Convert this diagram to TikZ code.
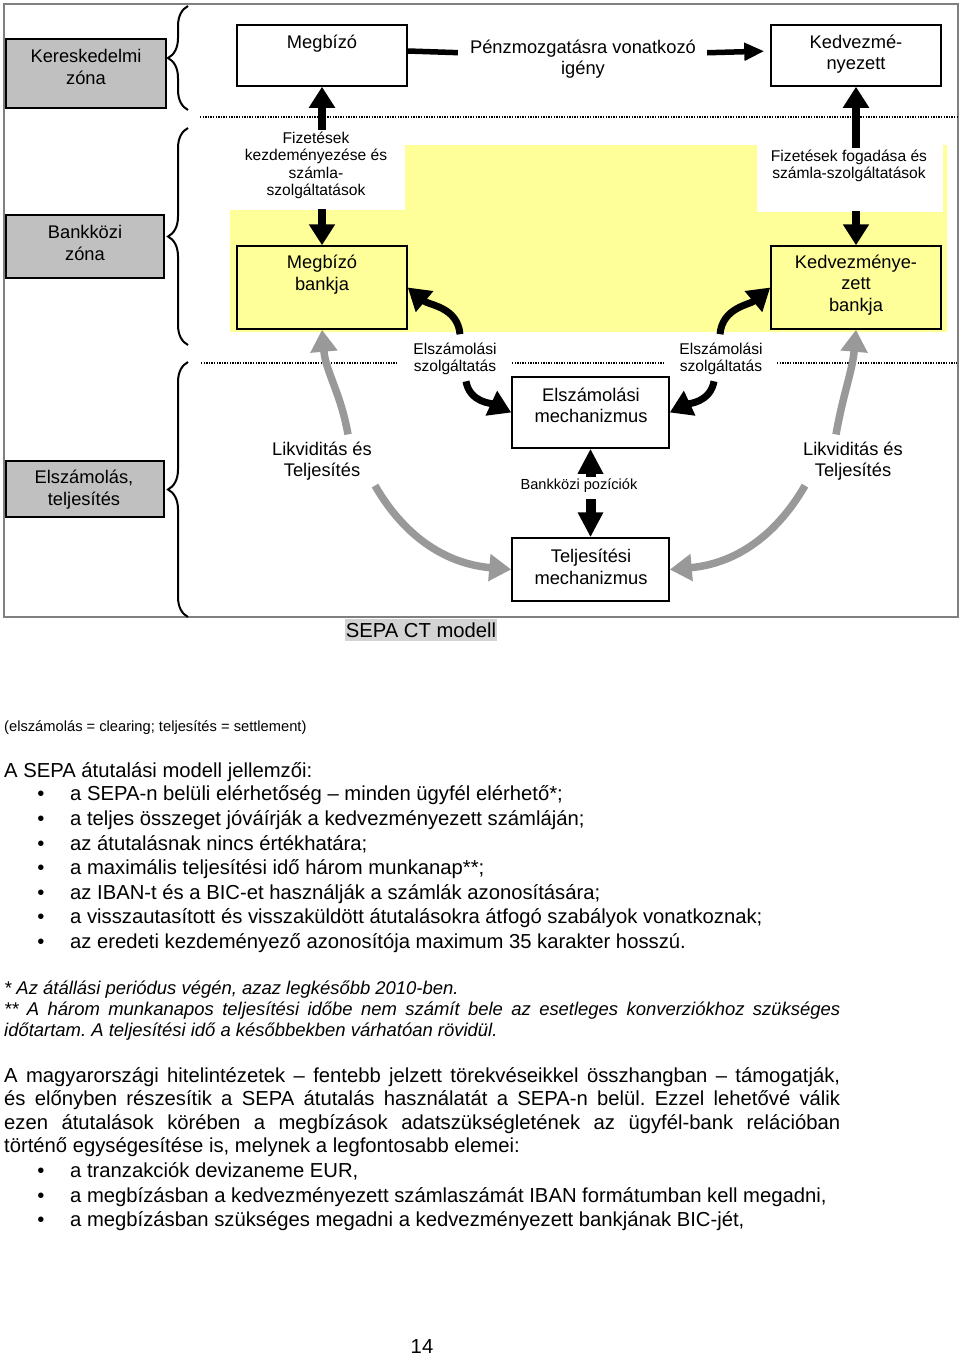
\documentclass[tikz,border=0pt]{standalone}
\usepackage{fontspec}
\setmainfont{Liberation Sans}
\usetikzlibrary{arrows.meta, decorations.pathreplacing}
\frenchspacing

\definecolor{yellowbg}{RGB}{255,255,153}
\definecolor{zonegray}{RGB}{192,192,192}
\definecolor{arrowgray}{RGB}{153,153,153}
\definecolor{framegray}{RGB}{128,128,128}
\definecolor{captiongray}{RGB}{211,211,211}

\newcommand{\diagfont}{\fontsize{18.3}{21.5}\selectfont}
\newcommand{\lblfont}{\fontsize{15.6}{17.5}\selectfont}
\newcommand{\posfont}{\fontsize{14.6}{17}\selectfont}
\newcommand{\bodyfont}{\fontsize{20.25}{24.5}\selectfont}
\newcommand{\notefont}{\fontsize{18.45}{21}\selectfont\itshape}
\newcommand{\parenfont}{\fontsize{14.7}{17}\selectfont}

\begin{document}
\begin{tikzpicture}[x=1pt, y=-1pt,
	box/.style={draw, rectangle, line width=1.5pt, inner sep=0pt},
	zonebox/.style={box, fill=zonegray},
	txt/.style={inner sep=2pt, align=center, font=\diagfont},
	lbl/.style={txt, font=\lblfont},
	textline/.style={anchor=base west, inner sep=0pt, font=\bodyfont},
	bulletdot/.style={anchor=base, inner sep=0pt, font=\bodyfont},
	separator/.style={line width=1.3pt, dash pattern=on 1.3pt off 1.3pt},
	zonebrace/.style={decorate, decoration={brace, amplitude=20pt}, line width=2pt},
	bigarrow/.style={->, >={Triangle[length=21pt, width=25pt]}, line width=8pt},
	toparrow/.style={->, >={Triangle[length=20pt, width=17pt]}, line width=5.5pt},
	curvearrow/.style={->, >={Triangle[length=22pt, width=26pt]}, line width=7pt},
	grayarrow/.style={curvearrow, draw=arrowgray, line width=7.5pt},
	posarrow/.style={->, >={Triangle[length=25pt, width=24pt]}, line width=10pt}]

	\useasboundingbox (0,0) rectangle (960,1357);

	\def \bx {41}
	\def \tx {70}
	\def \fullw {836pt}

	\draw[framegray, line width=2pt] (4,4) rectangle (958,617);
	\fill[yellowbg] (230,210) -- (405,210) -- (405,145) -- (757,145) -- (757,212)
		-- (943,212) -- (943,145) -- (947,145) -- (947,332) -- (230,332) -- cycle;

	\draw[separator] (200,117) -- (957,117);
	\draw[separator] (201,363) -- (397,363);
	\draw[separator] (512,363) -- (664,363);
	\draw[separator] (777,363) -- (957,363);

	\draw[zonebrace] (188,110) -- (188,6);
	\draw[zonebrace] (188,345) -- (188,128);
	\draw[zonebrace] (188,617) -- (188,362);

	\node[zonebox, minimum width=160, minimum height=69] (kerzona)  at (86,73.5) {};
	\node[zonebox, minimum width=158, minimum height=63] (bkzona)   at (85,246.5) {};
	\node[zonebox, minimum width=158, minimum height=56] (elszzona) at (85,489) {};

	\node[box, minimum width=170, minimum height=61] (megbizo)  at (322,55.5) {};
	\node[box, minimum width=170, minimum height=61] (kedv)     at (856,55.5) {};
	\node[box, fill=yellowbg, minimum width=170, minimum height=83] (mbank) at (322,287.5) {};
	\node[box, fill=yellowbg, minimum width=170, minimum height=83] (kbank) at (856,287.5) {};
	\node[box, minimum width=157, minimum height=71] (elszmech) at (590.5,412.5) {};
	\node[box, minimum width=157, minimum height=63] (teljmech) at (590.5,569.5) {};

	\node[txt] (kertxt)  at (86,67)    {Kereskedelmi\\zóna};
	\node[txt] (bktxt)   at (85,243)   {Bankközi\\zóna};
	\node[txt] (elsztxt) at (84,489.5) {Elszámolás,\\teljesítés};

	\node[txt] (megbizotxt)  at (322,44)    {Megbízó};
	\node[txt] (igeny)       at (583,59)    {Pénzmozgatásra vonatkozó\\igény};
	\node[txt] (kedvtxt)     at (856,54)    {Kedvezmé-\\nyezett};
	\node[lbl] (kezd)        at (316,165.5) {Fizetések\\kezdeményezése és\\számla-\\szolgáltatások};
	\node[lbl] (fogad)       at (849,166)   {Fizetések fogadása és\\számla-szolgáltatások};
	\node[txt] (mbanktxt)    at (322,274.5) {Megbízó\\bankja};
	\node[txt] (kbanktxt)    at (856,285)   {Kedvezménye-\\zett\\bankja};
	\node[lbl] (elszl)       at (455,359)   {Elszámolási\\szolgáltatás};
	\node[lbl] (elszr)       at (721,359)   {Elszámolási\\szolgáltatás};
	\node[txt] (elszmechtxt) at (591,405.5) {Elszámolási\\mechanizmus};
	\node[txt] (likvl)       at (322,461)   {Likviditás és\\Teljesítés};
	\node[txt] (likvr)       at (853,461)   {Likviditás és\\Teljesítés};
	\node[txt, font=\posfont] (poz) at (579,486) {Bankközi pozíciók};
	\node[txt] (teljmechtxt) at (591,567)   {Teljesítési\\mechanizmus};
	\node[fill=captiongray, inner xsep=1pt, inner ysep=3.7pt, font=\bodyfont] (sepact) at (421,630) {SEPA CT modell};

	\draw[line width=5.5pt, shorten >=10pt] ([yshift=4.5]megbizo.east) -- ([yshift=6]igeny.west);
	\draw[toparrow, shorten <=9pt, shorten >=6pt] ([yshift=6]igeny.east) -- ([yshift=4.5]kedv.west);

	\draw[bigarrow] (megbizo.south |- kezd.north) -- (megbizo.south);
	\draw[bigarrow, shorten <=8pt] (mbank.north |- kezd.south) -- (mbank.north);
	\draw[bigarrow] (kedv.south |- fogad.north) -- (kedv.south);
	\draw[bigarrow, shorten <=27pt] (kbank.north |- fogad.south) -- (kbank.north);

	\draw[curvearrow] ([xshift=5, yshift=6.5]elszl.north) to[out=95, in=-40] (mbank.east);
	\draw[curvearrow] ([xshift=11, yshift=-4]elszl.south) to[out=-80, in=155] (elszmech.west);
	\draw[curvearrow] ([xshift=-1, yshift=6.5]elszr.north) to[out=85, in=-140] (kbank.west);
	\draw[curvearrow] ([xshift=-7, yshift=-4]elszr.south) to[out=-100, in=25] (elszmech.east);

	\draw[grayarrow] ([xshift=26, yshift=5]likvl.north) to[out=100, in=-85] (mbank.south);
	\draw[grayarrow] ([xshift=53, yshift=-3]likvl.south) to[out=-60, in=175] (teljmech.west);
	\draw[grayarrow] ([xshift=-17, yshift=5]likvr.north) to[out=80, in=-95] (kbank.south);
	\draw[grayarrow] ([xshift=-48, yshift=-3]likvr.south) to[out=-120, in=5] (teljmech.east);

	\draw[posarrow] (elszmech.south |- poz.north) -- (elszmech.south);
	\draw[posarrow, shorten <=4pt] (teljmech.north |- poz.south) -- (teljmech.north);

	\node[textline, font=\parenfont] (paren) at (4,731) {(elszámolás = clearing; teljesítés = settlement)};

	\node[textline] (jellemzok) at (4,777) {A SEPA átutalási modell jellemzői:};
	\node[bulletdot] (pa1) at (\bx,800) {\textbullet};
	\node[textline]  (ja1) at (\tx,800) {a SEPA-n belüli elérhetőség – minden ügyfél elérhető*;};
	\node[bulletdot] (pa2) at (\bx,825) {\textbullet};
	\node[textline]  (ja2) at (\tx,825) {a teljes összeget jóváírják a kedvezményezett számláján;};
	\node[bulletdot] (pa3) at (\bx,850) {\textbullet};
	\node[textline]  (ja3) at (\tx,850) {az átutalásnak nincs értékhatára;};
	\node[bulletdot] (pa4) at (\bx,874) {\textbullet};
	\node[textline]  (ja4) at (\tx,874) {a maximális teljesítési idő három munkanap**;};
	\node[bulletdot] (pa5) at (\bx,899) {\textbullet};
	\node[textline]  (ja5) at (\tx,899) {az IBAN-t és a BIC-et használják a számlák azonosítására;};
	\node[bulletdot] (pa6) at (\bx,923) {\textbullet};
	\node[textline]  (ja6) at (\tx,923) {a visszautasított és visszaküldött átutalásokra átfogó szabályok vonatkoznak;};
	\node[bulletdot] (pa7) at (\bx,948) {\textbullet};
	\node[textline]  (ja7) at (\tx,948) {az eredeti kezdeményező azonosítója maximum 35 karakter hosszú.};

	\node[textline, font=\notefont] (jegyzet1) at (4,994.5)  {* Az átállási periódus végén, azaz legkésőbb 2010-ben.};
	\node[textline, font=\notefont] (jegyzet2) at (4,1015.5) {\makebox[\fullw][s]{** A három munkanapos teljesítési időbe nem számít bele az esetleges konverziókhoz szükséges}};
	\node[textline, font=\notefont] (jegyzet3) at (4,1036.5) {időtartam. A teljesítési idő a későbbekben várhatóan rövidül.};

	\node[textline] (bek1) at (4,1082.5) {\makebox[\fullw][s]{A magyarországi hitelintézetek – fentebb jelzett törekvéseikkel összhangban – támogatják,}};
	\node[textline] (bek2) at (4,1105.5) {\makebox[\fullw][s]{és előnyben részesítik a SEPA átutalás használatát a SEPA-n belül. Ezzel lehetővé válik}};
	\node[textline] (bek3) at (4,1129.5) {\makebox[\fullw][s]{ezen átutalások körében a megbízások adatszükségletének az ügyfél-bank relációban}};
	\node[textline] (bek4) at (4,1152.5) {történő egységesítése is, melynek a legfontosabb elemei:};

	\node[bulletdot] (pb1) at (\bx,1177.5) {\textbullet};
	\node[textline]  (jb1) at (\tx,1177.5) {a tranzakciók devizaneme EUR,};
	\node[bulletdot] (pb2) at (\bx,1202.5) {\textbullet};
	\node[textline]  (jb2) at (\tx,1202.5) {a megbízásban a kedvezményezett számlaszámát IBAN formátumban kell megadni,};
	\node[bulletdot] (pb3) at (\bx,1226.5) {\textbullet};
	\node[textline]  (jb3) at (\tx,1226.5) {a megbízásban szükséges megadni a kedvezményezett bankjának BIC-jét,};

	\node[bulletdot] (oldalszam) at (422,1353) {14};
\end{tikzpicture}
\end{document}
